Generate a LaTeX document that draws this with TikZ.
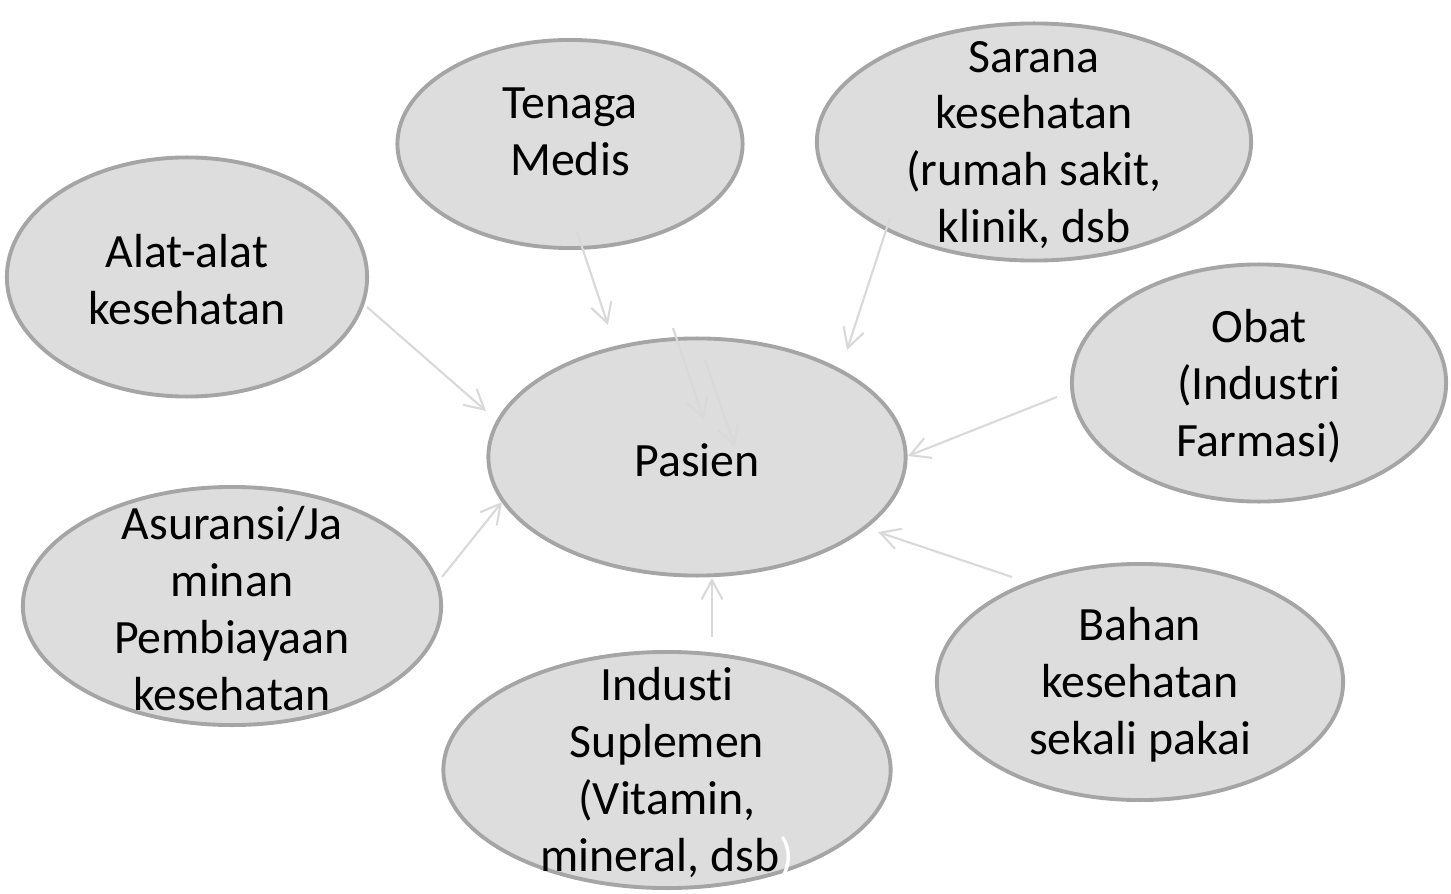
\documentclass[tikz,border=0pt]{standalone}
\usepackage{fontspec}
\setmainfont{Carlito}[Ligatures=NoCommon]
\usetikzlibrary{shapes.geometric,arrows.meta}

\definecolor{bubblefill}{HTML}{DDDDDD}
\definecolor{bubbleline}{HTML}{A5A5A5}
\definecolor{arrowline}{HTML}{D9D9D9}

\tikzstyle{bubble}=[ellipse,
                    draw=bubbleline,
                    line width=1.1pt,
                    fill=bubblefill,
                    inner sep=0pt]
\tikzstyle{bubbletext}=[align=center,
                        inner sep=0pt,
                        text=black,
                        yshift=-0.03cm,
                        font=\fontsize{13.6}{16.2}\selectfont]
\tikzstyle{feed}=[draw=arrowline,
                  line width=0.6pt,
                  -{Straight Barb[length=5.5pt,width=6pt]}]

\begin{document}
\begin{tikzpicture}[x=0.01cm,y=-0.01cm]
    \useasboundingbox (0,0) rectangle (1451,894);

    % the eight bubbles
    \node [bubble, minimum width=3.45cm, minimum height=2.08cm,
           label={[bubbletext, yshift=0.15cm]center:Tenaga\\Medis}] (tenaga) at (570,144) {};
    \node [bubble, minimum width=4.34cm, minimum height=2.37cm,
           label={[bubbletext]center:Sarana\\kesehatan\\(rumah sakit,\\klinik, dsb}] (sarana) at (1034,142) {};
    \node [bubble, minimum width=3.60cm, minimum height=2.39cm,
           label={[bubbletext]center:Alat-alat\\kesehatan}] (alat) at (187,277) {};
    \node [bubble, minimum width=3.74cm, minimum height=2.37cm,
           label={[bubbletext]center:Obat\\(Industri\\Farmasi)}] (obat) at (1259,383) {};
    \node [bubble, minimum width=4.17cm, minimum height=2.37cm,
           label={[bubbletext]center:Pasien}] (pasien) at (697,457) {};
    \node [bubble, minimum width=4.18cm, minimum height=2.38cm,
           label={[bubbletext]center:Asuransi/Ja\\minan\\Pembiayaan\\kesehatan}] (asuransi) at (232,606) {};
    \node [bubble, minimum width=4.06cm, minimum height=2.36cm,
           label={[bubbletext]center:Bahan\\kesehatan\\sekali pakai}] (bahan) at (1140,682) {};
    \node [bubble, minimum width=4.47cm, minimum height=2.36cm,
           label={[bubbletext]center:Industi\\Suplemen\\(Vitamin,\\mineral, dsb\textcolor{white}{)}}] (industi) at (667,770) {};

    % arrow ends
    \coordinate (tenaga-out) at (577,232);
    \coordinate (tenaga-in) at (608,325);
    \coordinate (sarana-out) at (890,218);
    \coordinate (sarana-in) at (847,350);
    \coordinate (inner1-out) at (673,328);
    \coordinate (inner1-in) at (704,420);
    \coordinate (inner2-out) at (705,360);
    \coordinate (inner2-in) at (735,447);
    \coordinate (alat-out) at (367,307);
    \coordinate (alat-in) at (486,411);
    \coordinate (asuransi-out) at (442,577);
    \coordinate (asuransi-in) at (502,502);
    \coordinate (obat-out) at (1057,397);
    \coordinate (obat-in) at (908,456);
    \coordinate (bahan-out) at (1012,577);
    \coordinate (bahan-in) at (878,532);
    \coordinate (industi-out) at (712,637);
    \coordinate (industi-in) at (712,578);

    \foreach \src in {tenaga,sarana,inner1,inner2,alat,asuransi,obat,bahan,industi}
        \draw [feed] (\src-out) -- (\src-in);
\end{tikzpicture}
\end{document}
